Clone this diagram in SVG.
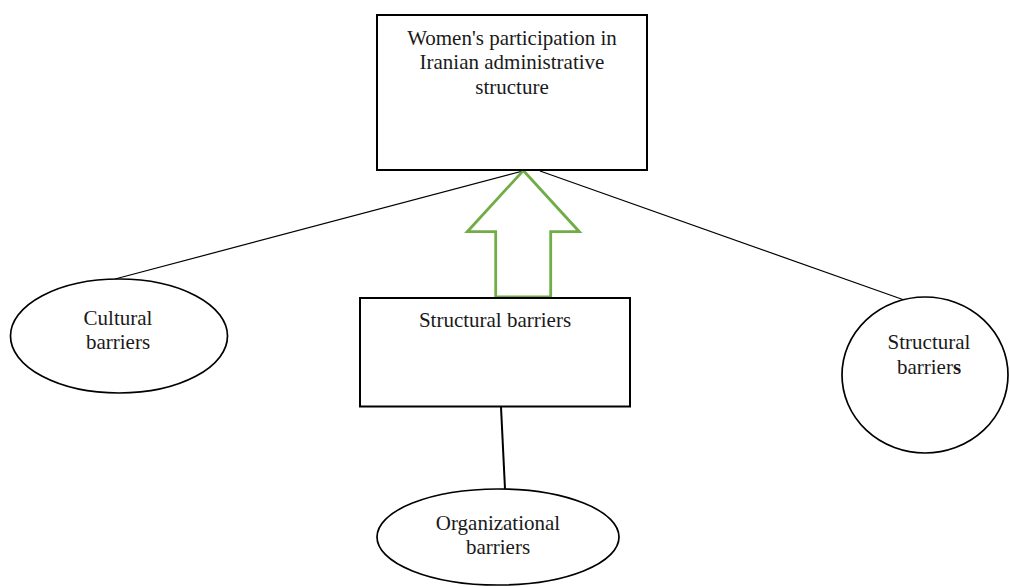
<svg xmlns="http://www.w3.org/2000/svg" width="1010" height="587" viewBox="0 0 1010 587">
<style>
.box{fill:#fff;stroke:#000;stroke-width:2}
.ell{fill:#fff;stroke:#000;stroke-width:1.7}
.t{font-family:"Liberation Serif","Times New Roman",serif;font-size:21px;fill:#1a1a1a;text-anchor:middle}
.ln{stroke:#000;stroke-width:1.2;fill:none}
</style>
<rect width="1010" height="587" fill="#fff"/>
<g id="connectors">
<line class="ln" x1="523" y1="171" x2="115" y2="279"/>
<line class="ln" x1="540" y1="171" x2="907" y2="301"/>
<line class="ln" x1="501" y1="407" x2="505" y2="489" style="stroke-width:2"/>
<polygon id="arrow" points="523.3,170.5 579.3,231.7 550.7,231.7 550.7,297 495.7,297 495.7,231.7 467.3,231.7" fill="#fff" stroke="#70ad47" stroke-width="2.8" stroke-linejoin="miter"/>
</g>
<g id="top">
<rect class="box" x="377" y="15" width="270" height="155"/>
<text class="t" x="512" y="44.5">Women's participation in</text>
<text class="t" x="512" y="69">Iranian administrative</text>
<text class="t" x="512" y="93.5">structure</text>
</g>
<g id="cultural">
<ellipse class="ell" cx="119" cy="336" rx="108.5" ry="57"/>
<text class="t" x="118" y="325">Cultural</text>
<text class="t" x="118" y="349">barriers</text>
</g>
<g id="structural-box">
<rect class="box" x="360" y="298" width="270" height="108.5"/>
<text class="t" x="495" y="327">Structural barriers</text>
</g>
<g id="structural-ellipse">
<ellipse class="ell" cx="925" cy="375" rx="83" ry="78"/>
<text class="t" x="929" y="349">Structural</text>
<text class="t" x="929" y="374">barrier<tspan font-weight="bold">s</tspan></text>
</g>
<g id="organizational">
<ellipse class="ell" cx="498" cy="537" rx="121" ry="48"/>
<text class="t" x="498" y="530">Organizational</text>
<text class="t" x="498" y="554">barriers</text>
</g>
</svg>
